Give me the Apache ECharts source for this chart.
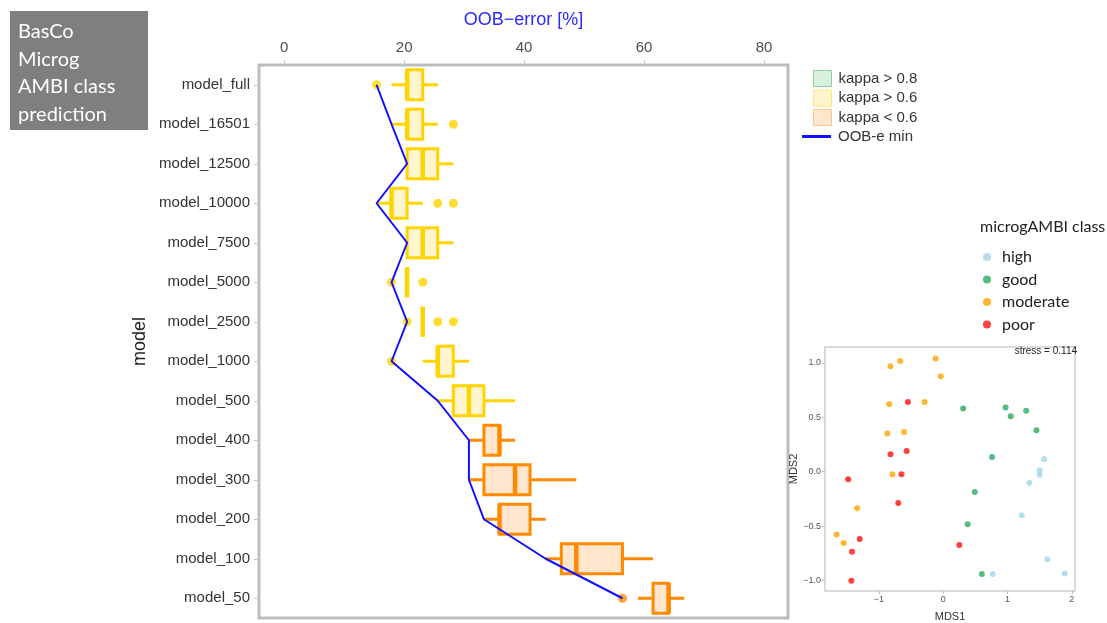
<!DOCTYPE html>
<html>
<head>
<meta charset="utf-8">
<title>OOB-error by model</title>
<script src="https://cdn.jsdelivr.net/npm/echarts@6/dist/echarts.min.js"></script>
<style>
  html, body { margin: 0; padding: 0; background: #fff; }
  #chart { width: 1107px; height: 623px; }
</style>
</head>
<body>
<div id="chart"></div>
<script>
// Random-forest models, top to bottom
const models = ['model_full', 'model_16501', 'model_12500', 'model_10000', 'model_7500',
  'model_5000', 'model_2500', 'model_1000', 'model_500', 'model_400', 'model_300',
  'model_200', 'model_100', 'model_50'];

// kappa class of each model: 'mid' = kappa > 0.6, 'low' = kappa < 0.6
const kappaClass = ['mid', 'mid', 'mid', 'mid', 'mid', 'mid', 'mid', 'mid', 'mid',
  'low', 'low', 'low', 'low', 'low'];

// OOB-error [%] box statistics
const whiskerLow  = [17.9, 17.9, 20.5, 15.4, 20.5, 20.5, 23.1, 23.1, 25.6, 30.8, 30.8, 33.3, 43.6, 59.0];
const quart1      = [20.5, 20.5, 20.5, 17.9, 20.5, 20.5, 23.1, 25.6, 28.2, 33.3, 33.3, 35.9, 46.2, 61.5];
const medians     = [20.5, 20.5, 23.1, 17.9, 23.1, 20.5, 23.1, 25.6, 30.8, 35.9, 38.5, 35.9, 48.7, 64.1];
const quart3      = [23.1, 23.1, 25.6, 20.5, 25.6, 20.5, 23.1, 28.2, 33.3, 35.9, 41.0, 41.0, 56.4, 64.1];
const whiskerHigh = [25.6, 25.6, 28.2, 23.1, 28.2, 20.5, 23.1, 30.8, 38.5, 38.5, 48.7, 43.6, 61.5, 66.7];
const outliers = [[15.4], [28.2], [], [25.6, 28.2], [], [17.9, 23.1], [20.5, 25.6, 28.2],
  [17.9], [], [], [], [], [], [56.4]];

// minimum OOB-error per model
const oobMin = [15.4, 17.9, 20.5, 15.4, 20.5, 17.9, 20.5, 17.9, 25.6, 30.8, 30.8, 33.3, 43.6, 56.4];

const errorTicks = [0, 20, 40, 60, 80];

// NMDS ordination of samples, by microgAMBI class
const mdsHigh = [[1.57, 0.115], [1.50, 0.014], [1.50, -0.029], [1.34, -0.103], [1.22, -0.40],
  [0.77, -0.94], [1.62, -0.805], [1.89, -0.937]];
const mdsGood = [[0.31, 0.58], [0.97, 0.589], [1.05, 0.51], [1.29, 0.56], [1.45, 0.38],
  [0.76, 0.135], [0.49, -0.187], [0.38, -0.483], [0.60, -0.94]];
const mdsModerate = [[-0.67, 1.017], [-0.82, 0.97], [-0.12, 1.04], [-0.04, 0.876], [-0.84, 0.62],
  [-0.29, 0.64], [-0.87, 0.35], [-0.61, 0.365], [-0.79, -0.023], [-1.34, -0.336],
  [-1.66, -0.578], [-1.55, -0.655]];
const mdsPoor = [[-0.55, 0.64], [-0.82, 0.16], [-0.57, 0.19], [-0.65, -0.023], [-1.48, -0.069],
  [-0.70, -0.287], [-1.30, -0.62], [-1.42, -0.736], [-1.43, -1.003], [0.25, -0.675]];
const mdsXTicks = [-1, 0, 1, 2];
const mdsYTicks = [-1, -0.5, 0, 0.5, 1];
const stressValue = 0.114;

const palette = {
  high: { stroke: '#8fd19a', fill: '#d9f0de' },
  mid:  { stroke: '#ffd400', fill: '#fff6cf' },
  low:  { stroke: '#ff8a00', fill: '#ffe6cc' }
};
const legendStroke = { high: '#8fd19a', mid: '#ffe57a', low: '#ffc48a' };
const classColors = { high: '#a6d5e8', good: '#2aaa62', moderate: '#ffa500', poor: '#ff1010' };

function boxData(cls) {
  const out = [];
  models.forEach((m, i) => {
    if (kappaClass[i] === cls) {
      out.push([i, whiskerLow[i], quart1[i], medians[i], quart3[i], whiskerHigh[i]]);
    }
  });
  return out;
}
function outlierData(cls) {
  const out = [];
  outliers.forEach((list, i) => {
    if (kappaClass[i] === cls) list.forEach(v => out.push([v, i]));
  });
  return out;
}

function makeBoxRenderer(cls) {
  const c = palette[cls];
  return function (params, api) {
    const cat = api.value(0);
    const pLo = api.coord([api.value(1), cat]);
    const pQ1 = api.coord([api.value(2), cat]);
    const pMed = api.coord([api.value(3), cat]);
    const pQ3 = api.coord([api.value(4), cat]);
    const pHi = api.coord([api.value(5), cat]);
    const band = api.size([0, 1])[1];
    const h = band * 0.76;
    const y = pMed[1];
    const lw = 3;
    const children = [];
    if (pQ1[0] - pLo[0] > 0.5) {
      children.push({ type: 'line', shape: { x1: pLo[0], y1: y, x2: pQ1[0], y2: y },
        style: { stroke: c.stroke, lineWidth: lw } });
    }
    if (pHi[0] - pQ3[0] > 0.5) {
      children.push({ type: 'line', shape: { x1: pQ3[0], y1: y, x2: pHi[0], y2: y },
        style: { stroke: c.stroke, lineWidth: lw } });
    }
    children.push({ type: 'rect',
      shape: { x: pQ1[0], y: y - h / 2, width: pQ3[0] - pQ1[0], height: h },
      style: { fill: c.fill, stroke: c.stroke, lineWidth: lw } });
    children.push({ type: 'line', shape: { x1: pMed[0], y1: y - h / 2, x2: pMed[0], y2: y + h / 2 },
      style: { stroke: c.stroke, lineWidth: lw + 1.5 } });
    return { type: 'group', children: children };
  };
}

const chart = echarts.init(document.getElementById('chart'), null, { renderer: 'canvas' });

const option = {
  backgroundColor: '#ffffff',
  animation: false,
  textStyle: { fontFamily: 'Liberation Sans, Arial, sans-serif' },
  grid: [
    { left: 259, right: 319, top: 65, bottom: 5, show: true,
      borderColor: '#bdbdbd', borderWidth: 3, backgroundColor: '#fff' },
    { left: 825, right: 32, top: 347, bottom: 18, show: true,
      borderColor: '#cfcfcf', borderWidth: 1.5, backgroundColor: '#fff' }
  ],
  xAxis: [
    { type: 'value', gridIndex: 0, position: 'top', min: -4.2, max: 84,
      name: 'OOB\u2212error [%]', nameLocation: 'middle', nameGap: 36,
      nameTextStyle: { color: '#2a2aff', fontSize: 18 },
      axisLine: { show: false, onZero: false },
      axisTick: { show: true, length: 5, lineStyle: { color: '#c8c8c8' }, customValues: errorTicks },
      axisLabel: { fontSize: 15, color: '#4d4d4d', margin: 10, customValues: errorTicks },
      splitLine: { show: false } },
    { type: 'value', gridIndex: 1, min: -1.84, max: 2.05,
      name: 'MDS1', nameLocation: 'middle', nameGap: 20,
      nameTextStyle: { color: '#333', fontSize: 11 },
      axisLine: { show: false, onZero: false },
      axisTick: { show: true, length: 3, lineStyle: { color: '#bbb' }, customValues: mdsXTicks },
      axisLabel: { fontSize: 9, color: '#555', margin: 4, customValues: mdsXTicks,
        formatter: v => String(v).replace('-', '\u2212') },
      splitLine: { show: false } }
  ],
  yAxis: [
    { type: 'category', gridIndex: 0, data: models, inverse: true,
      name: 'model', nameLocation: 'middle', nameGap: 110, nameRotate: 90,
      nameTextStyle: { color: '#222', fontSize: 18 },
      axisLine: { show: false, onZero: false },
      axisTick: { show: true, alignWithLabel: true, length: 5, lineStyle: { color: '#c8c8c8' } },
      axisLabel: { fontSize: 15, color: '#333', margin: 9 } },
    { type: 'value', gridIndex: 1, min: -1.097, max: 1.146,
      name: 'MDS2', nameLocation: 'middle', nameGap: 21, nameRotate: 90,
      nameTextStyle: { color: '#333', fontSize: 11 },
      axisLine: { show: false, onZero: false },
      axisTick: { show: true, length: 3, lineStyle: { color: '#bbb' }, customValues: mdsYTicks },
      axisLabel: { fontSize: 9, color: '#555', margin: 4, customValues: mdsYTicks,
        formatter: v => v.toFixed(1).replace('-', '\u2212') },
      splitLine: { show: false } }
  ],
  legend: [
    { orient: 'vertical', left: 808, top: 65, itemWidth: 18, itemHeight: 16, itemGap: 2.5,
      icon: 'rect', selectedMode: false,
      textStyle: { fontSize: 15, color: '#333', padding: [0, 0, 0, 2] },
      data: [
        { name: 'kappa > 0.8', itemStyle: { color: palette.high.fill, borderColor: legendStroke.high, borderWidth: 1 } },
        { name: 'kappa > 0.6', itemStyle: { color: palette.mid.fill, borderColor: legendStroke.mid, borderWidth: 1 } },
        { name: 'kappa < 0.6', itemStyle: { color: palette.low.fill, borderColor: legendStroke.low, borderWidth: 1 } }
      ] },
    { orient: 'vertical', left: 797, top: 124, itemWidth: 29, itemHeight: 14, selectedMode: false,
      textStyle: { fontSize: 15, color: '#333', padding: [0, 0, 0, 2] },
      data: [{ name: 'OOB-e min', icon: 'path://M0,6 L29,6 L29,9 L0,9 Z', itemStyle: { color: '#1010ff' } }] },
    { orient: 'vertical', left: 978, top: 244, itemWidth: 8, itemHeight: 8, itemGap: 6.5,
      icon: 'circle', selectedMode: false,
      textStyle: { fontSize: 16, color: '#222', fontFamily: 'Lato, sans-serif', padding: [0, 0, 0, 6] },
      data: ['high', 'good', 'moderate', 'poor'] }
  ],
  title: [
    { text: 'microgAMBI class', left: 975, top: 214,
      textStyle: { fontSize: 16, fontWeight: 'normal', color: '#222', fontFamily: 'Lato, sans-serif' } }
  ],
  graphic: [
    { type: 'rect', left: 10, top: 11, shape: { width: 138, height: 119 },
      style: { fill: '#7f7f7f' } },
    { type: 'text', left: 18, top: 18,
      style: { text: 'BasCo\nMicrog\nAMBI class\nprediction', fill: '#fff', fontSize: 20,
        lineHeight: 27.5, fontFamily: 'Lato, sans-serif' } },
    { type: 'text', right: 30, top: 346,
      style: { text: 'stress = ' + stressValue, fill: '#222', fontSize: 10,
        fontFamily: 'Liberation Sans, Arial, sans-serif' } }
  ],
  series: [
    { name: 'kappa > 0.8', type: 'custom', xAxisIndex: 0, yAxisIndex: 0,
      renderItem: makeBoxRenderer('high'), data: boxData('high'),
      itemStyle: { color: palette.high.fill } },
    { name: 'kappa > 0.6', type: 'custom', xAxisIndex: 0, yAxisIndex: 0,
      renderItem: makeBoxRenderer('mid'), data: boxData('mid'),
      encode: { x: [1, 2, 3, 4, 5], y: 0 }, itemStyle: { color: palette.mid.fill } },
    { name: 'kappa < 0.6', type: 'custom', xAxisIndex: 0, yAxisIndex: 0,
      renderItem: makeBoxRenderer('low'), data: boxData('low'),
      encode: { x: [1, 2, 3, 4, 5], y: 0 }, itemStyle: { color: palette.low.fill } },
    { name: 'OOB-e min', type: 'line', xAxisIndex: 0, yAxisIndex: 0, z: 5,
      data: oobMin.map((v, i) => [v, i]), showSymbol: false, symbol: 'none',
      lineStyle: { color: '#1010ff', width: 2 }, itemStyle: { color: '#1010ff' } },
    { name: 'outliers mid', type: 'scatter', xAxisIndex: 0, yAxisIndex: 0, z: 4,
      data: outlierData('mid'), symbolSize: 9, itemStyle: { color: palette.mid.stroke } },
    { name: 'outliers low', type: 'scatter', xAxisIndex: 0, yAxisIndex: 0, z: 4,
      data: outlierData('low'), symbolSize: 9, itemStyle: { color: palette.low.stroke } },
    { name: 'high', type: 'scatter', xAxisIndex: 1, yAxisIndex: 1, data: mdsHigh,
      symbolSize: 6, itemStyle: { color: classColors.high } },
    { name: 'good', type: 'scatter', xAxisIndex: 1, yAxisIndex: 1, data: mdsGood,
      symbolSize: 6, itemStyle: { color: classColors.good } },
    { name: 'moderate', type: 'scatter', xAxisIndex: 1, yAxisIndex: 1, data: mdsModerate,
      symbolSize: 6, itemStyle: { color: classColors.moderate } },
    { name: 'poor', type: 'scatter', xAxisIndex: 1, yAxisIndex: 1, data: mdsPoor,
      symbolSize: 6, itemStyle: { color: classColors.poor } }
  ]
};

chart.setOption(option);
</script>
</body>
</html>
